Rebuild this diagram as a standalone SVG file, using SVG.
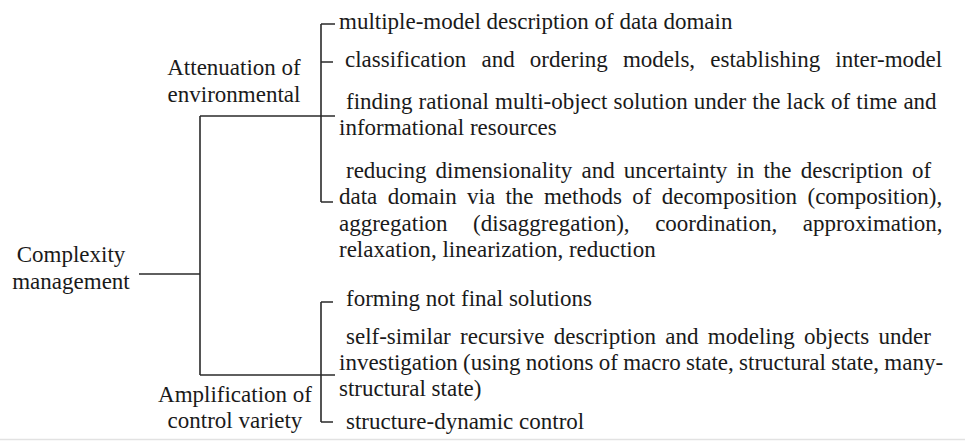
<svg xmlns="http://www.w3.org/2000/svg" width="965" height="441" viewBox="0 0 965 441">
<style>
text{font-family:"Liberation Serif","Times New Roman",serif;font-size:23px;fill:#1a1a1a}
.c{text-anchor:middle}
#connectors path{fill:none;stroke:#2a2a2a;stroke-width:1.6}
</style>
<rect width="965" height="441" fill="#fff"/>
<line x1="0" y1="439.5" x2="965" y2="439.5" stroke="#e2e2e2" stroke-width="1.5"/>
<g id="connectors">
<path d="M139 274H200"/>
<path d="M200 116V375"/>
<path d="M200 116H335"/>
<path d="M200 375H335"/>
<path d="M321 24V202"/>
<path d="M321 24H335M321 62H333M321 202H333"/>
<path d="M321 302V422"/>
<path d="M321 302H333M321 422H333"/>
</g>
<g id="root">
<text class="c" x="71" y="262">Complexity</text>
<text class="c" x="71" y="289">management</text>
</g>
<g id="attenuation">
<text class="c" x="234" y="75">Attenuation of</text>
<text class="c" x="234" y="102">environmental</text>
</g>
<g id="amplification">
<text class="c" x="235" y="402">Amplification of</text>
<text class="c" x="235" y="428">control variety</text>
</g>
<g id="leaf1"><text x="339" y="29">multiple-model description of data domain</text></g>
<g id="leaf2"><text x="345" y="67" word-spacing="9.4">classification and ordering models, establishing inter-model</text></g>
<g id="leaf3">
<text x="346" y="109" word-spacing="0.4">finding rational multi-object solution under the lack of time and</text>
<text x="339" y="135">informational resources</text>
</g>
<g id="leaf4">
<text x="346" y="178" word-spacing="3.4">reducing dimensionality and uncertainty in the description of</text>
<text x="339" y="204" word-spacing="4.6">data domain via the methods of decomposition (composition),</text>
<text x="339" y="231" word-spacing="19.8">aggregation (disaggregation), coordination, approximation,</text>
<text x="339" y="257">relaxation, linearization, reduction</text>
</g>
<g id="leaf5"><text x="346" y="306">forming not final solutions</text></g>
<g id="leaf6">
<text x="346" y="344" word-spacing="3.6">self-similar recursive description and modeling objects under</text>
<text x="339" y="370" word-spacing="-0.5">investigation (using notions of macro state, structural state, many-</text>
<text x="339" y="396">structural state)</text>
</g>
<g id="leaf7"><text x="346" y="429">structure-dynamic control</text></g>
</svg>
